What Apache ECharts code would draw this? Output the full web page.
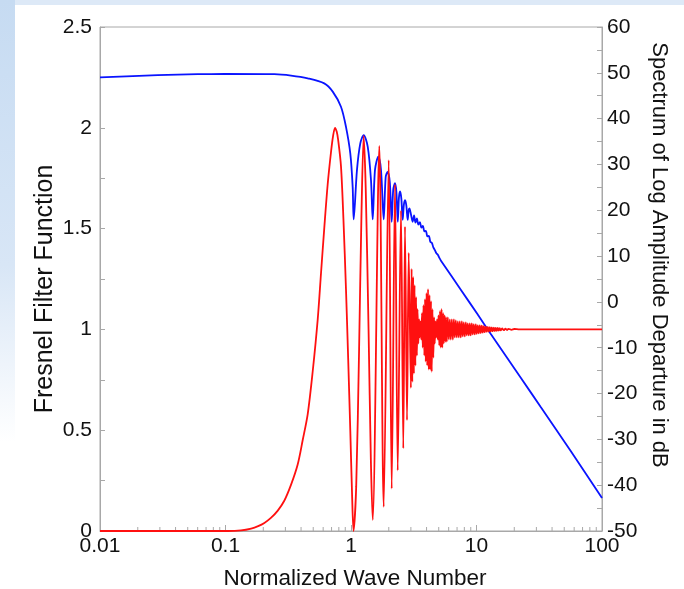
<!DOCTYPE html>
<html>
<head>
<meta charset="UTF-8">
<title>Fresnel Filter Function</title>
<script src="https://cdn.jsdelivr.net/npm/echarts@6/dist/echarts.min.js"></script>
<style>
  body { margin: 0; background: #fff; }
  #stripTop { position: absolute; left: 0; top: 0; width: 684px; height: 5px; background: #dde9f7; }
  #stripLeft { position: absolute; left: 0; top: 0; width: 15px; height: 589px;
               background: linear-gradient(to bottom, #c6dbf2 0%, #d8e6f6 45%, #ffffff 75%); }
  #main { position: absolute; left: 0; top: 0; width: 684px; height: 589px; }
</style>
</head>
<body>
<div id="stripTop"></div>
<div id="stripLeft"></div>
<div id="main"></div>
<script type="text/javascript">
// Fresnel filter function, [wave number, value]
var fresnel = [
  [0.01, 0], [0.03, 0], [0.06, 0], [0.104, 0], [0.133, 0.003], [0.16, 0.012], [0.182, 0.024],
  [0.204, 0.04], [0.23, 0.065], [0.26, 0.10], [0.294, 0.15], [0.333, 0.23], [0.376, 0.33],
  [0.412, 0.45], [0.452, 0.58], [0.495, 0.79], [0.543, 1.05], [0.577, 1.28], [0.612, 1.5],
  [0.652, 1.72], [0.693, 1.88], [0.72, 1.96], [0.746, 2.0], [0.77, 1.98], [0.79, 1.94],
  [0.832, 1.81], [0.87, 1.55], [0.912, 1.2], [0.95, 0.85], [0.987, 0.5], [1.02, 0.18],
  [1.047, 0.0],
  [1.10, 0.22], [1.16, 0.9], [1.21, 1.55], [1.262, 1.96], [1.31, 1.7], [1.38, 1.0], [1.44, 0.35],
  [1.489, 0.055], [1.681, 1.91], [1.822, 0.12], [1.997, 1.84], [2.110, 0.21], [2.242, 1.72],
  [2.356, 0.30], [2.502, 1.59], [2.610, 0.41], [2.693, 1.51], [2.794, 0.55], [2.883, 1.38],
  [3.0, 0.71], [3.04, 1.30], [3.08, 0.74], [3.13, 1.26], [3.17, 0.78], [3.21, 1.22],
  [3.26, 0.82], [3.30, 1.16], [3.35, 0.87], [3.39, 1.10], [3.44, 0.93], [3.49, 1.05],
  [3.53, 0.96], [3.58, 1.04], [3.63, 0.95], [3.68, 1.08], [3.73, 0.91], [3.78, 1.12],
  [3.84, 0.87], [3.89, 1.15], [3.94, 0.84], [4.00, 1.18], [4.05, 0.82], [4.11, 1.20],
  [4.17, 0.80], [4.22, 1.17], [4.28, 0.80], [4.34, 1.14], [4.40, 0.79], [4.46, 1.10],
  [4.53, 0.86], [4.59, 1.06], [4.65, 0.93], [4.72, 1.04], [4.78, 0.96], [4.85, 1.05],
  [4.92, 0.95], [4.98, 1.07], [5.05, 0.92], [5.12, 1.09], [5.20, 0.91], [5.27, 1.10],
  [5.34, 0.91], [5.42, 1.08], [5.49, 0.93], [5.57, 1.07], [5.65, 0.94], [5.72, 1.06],
  [5.80, 0.94], [5.91, 1.06], [6.02, 0.95], [6.13, 1.05], [6.24, 0.95], [6.36, 1.05],
  [6.48, 0.95], [6.60, 1.05], [6.72, 0.96], [6.84, 1.045], [6.97, 0.96], [7.10, 1.04],
  [7.23, 0.96], [7.36, 1.04], [7.50, 0.96], [7.64, 1.04], [7.78, 0.965], [7.92, 1.035],
  [8.07, 0.965], [8.22, 1.035], [8.37, 0.97], [8.52, 1.03], [8.68, 0.97], [8.84, 1.03],
  [9.00, 0.97], [9.17, 1.03], [9.34, 0.975], [9.51, 1.025], [9.69, 0.975], [9.87, 1.025],
  [10.05, 0.978], [10.24, 1.02], [10.43, 0.98], [10.62, 1.02], [10.82, 0.982], [11.02, 1.018],
  [11.22, 0.984], [11.43, 1.016], [11.64, 0.986], [11.86, 1.014], [12.08, 0.988], [12.30, 1.012],
  [12.53, 0.989], [12.76, 1.011], [13.0, 0.99], [13.24, 1.01], [13.48, 0.991], [13.73, 1.009],
  [13.98, 0.992], [14.24, 1.008], [14.5, 0.993], [14.77, 1.007], [15.04, 0.994], [15.32, 1.006],
  [15.6, 0.995], [16.0, 1.005], [16.5, 0.996], [17, 1.004], [17.5, 0.997], [18, 1.003],
  [19, 0.998], [20, 1.002], [22, 1.0], [100, 1.0]
];

// spectrum of log amplitude departure (dB), right axis
var spectrum = [
  [0.01, 49.0], [0.0288, 49.5], [0.06, 49.7], [0.098, 49.75], [0.245, 49.7], [0.333, 49.4],
  [0.452, 48.8], [0.612, 47.7], [0.715, 45.9], [0.832, 42.6], [0.912, 38.2], [0.987, 32.4],
  [1.031, 25.1], [1.05, 18.0], [1.116, 28.8], [1.186, 34.6], [1.262, 36.4], [1.359, 33.9],
  [1.443, 26.6], [1.489, 18.0], [1.553, 28.8], [1.650, 31.7], [1.734, 28.8], [1.822, 18.0],
  [1.89, 27.3], [1.96, 28.4], [2.04, 26.0], [2.11, 17.5], [2.17, 24.5], [2.24, 25.9],
  [2.30, 24.0], [2.36, 17.5], [2.41, 22.8], [2.46, 24.1], [2.52, 22.5], [2.58, 17.9],
  [2.64, 21.3], [2.70, 22.2], [2.76, 21.0], [2.83, 17.9], [2.88, 20.0], [2.92, 20.4],
  [3.0, 19.2], [3.10, 17.5], [3.18, 18.9], [3.26, 17.3], [3.35, 18.2], [3.44, 16.9],
  [3.54, 17.4], [3.64, 16.2], [3.74, 16.6], [3.84, 15.4], [3.95, 15.5], [4.06, 14.3],
  [4.17, 14.4], [4.29, 13.1], [4.41, 12.9], [4.53, 11.9], [4.66, 11.3], [4.79, 10.6],
  [4.92, 10.3], [5.06, 9.6], [5.21, 9.0], [7.52, 2.6], [10.2, -2.7], [13.0, -7.0],
  [22.6, -16.6], [32.6, -23.0], [56.5, -32.6], [100, -42.8]
];

var xMultipliers = [2, 3, 4, 5, 6, 7, 8, 9];
var xDecades = [0.01, 0.1, 1, 10];

var font = 'Liberation Sans, Arial, sans-serif';
var gray = '#a8a8a8';

var chart = echarts.init(document.getElementById('main'), null, { renderer: 'canvas' });

var option = {
  animation: false,
  backgroundColor: 'transparent',
  grid: {
    left: 100, right: 82, top: 27, bottom: 58,
    show: true, borderColor: gray, borderWidth: 1, backgroundColor: 'transparent',
    containLabel: false, outerBoundsMode: 'none'
  },
  xAxis: {
    type: 'log', logBase: 10, min: 0.01, max: 100,
    name: 'Normalized Wave Number', nameLocation: 'middle', nameGap: 36,
    nameTextStyle: { fontSize: 22.5, color: '#111', fontFamily: font, padding: [0, 0, 0, 8] },
    axisLine: { show: true, lineStyle: { color: gray, width: 1 } },
    axisTick: { show: true, inside: true, length: 6, lineStyle: { color: gray } },
    axisLabel: { fontSize: 21, color: '#111', fontFamily: font, margin: 5,
      formatter: function (v) { return String(v); } },
    splitLine: { show: false }
  },
  yAxis: [{
    type: 'value', min: 0, max: 2.5, interval: 0.5, position: 'left',
    axisLine: { show: true, lineStyle: { color: gray, width: 1 } },
    axisTick: { show: true, inside: true, length: 5, lineStyle: { color: gray } },
    minorTick: { show: true, splitNumber: 2, length: 5, lineStyle: { color: gray } },
    axisLabel: { fontSize: 21, color: '#111', fontFamily: font, margin: 8 },
    splitLine: { show: false }, minorSplitLine: { show: false }
  }, {
    type: 'value', min: -50, max: 60, interval: 10, position: 'right',
    name: 'Spectrum of Log Amplitude Departure in dB', nameLocation: 'middle', nameGap: 43,
    nameRotate: -90,
    nameTextStyle: { fontSize: 22, color: '#111', fontFamily: font, padding: [0, 48, 0, 0] },
    axisLine: { show: true, lineStyle: { color: gray, width: 1 } },
    axisTick: { show: true, inside: true, length: 5, lineStyle: { color: gray } },
    minorTick: { show: true, splitNumber: 2, length: 5, lineStyle: { color: gray } },
    axisLabel: { fontSize: 21, color: '#111', fontFamily: font, margin: 5 },
    splitLine: { show: false }, minorSplitLine: { show: false }
  }],
  series: [{
    name: 'Spectrum', type: 'line', yAxisIndex: 1, data: spectrum,
    showSymbol: false, smooth: 0.3,
    lineStyle: { color: '#0a14ff', width: 1.8 }
  }, {
    name: 'Fresnel', type: 'line', yAxisIndex: 0, data: fresnel,
    showSymbol: false, smooth: 0.3,
    lineStyle: { color: '#ff1010', width: 1.8 }
  }]
};
chart.setOption(option);

// log minor ticks (2..9 per decade) placed through the axis scale
var yb = chart.convertToPixel({ yAxisIndex: 0 }, 0);
var extras = [];
xDecades.forEach(function (d) {
  xMultipliers.forEach(function (m) {
    var x = chart.convertToPixel({ xAxisIndex: 0 }, d * m);
    extras.push({ type: 'line', silent: true,
      shape: { x1: x, y1: yb, x2: x, y2: yb - 4 },
      style: { stroke: gray, lineWidth: 1 } });
  });
});
// left axis title, placed a bit below the middle as in the original
extras.push({
  type: 'text', silent: true, x: 45, y: 289, rotation: Math.PI / 2,
  style: {
    text: 'Fresnel Filter Function', fill: '#111',
    font: '25px Liberation Sans, Arial, sans-serif',
    align: 'center', verticalAlign: 'middle',
    textAlign: 'center', textVerticalAlign: 'middle'
  }
});
chart.setOption({ graphic: extras });
</script>
</body>
</html>
